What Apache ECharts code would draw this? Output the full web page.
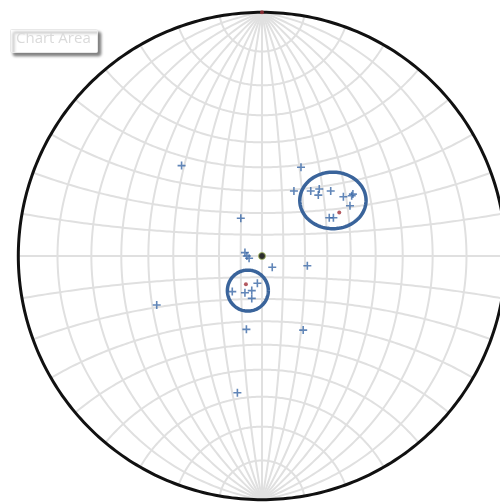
<!DOCTYPE html>
<html>
<head>
<meta charset="utf-8">
<script src="https://cdn.jsdelivr.net/npm/echarts@6/dist/echarts.min.js"></script>
<style>html,body{margin:0;padding:0;background:#fff}#c{width:500px;height:504px}</style>
</head>
<body>
<div id="c"></div>
<script>
// Projected positions (Wulff net units, radius = 1)
var polesX = [-0.330,-0.087,-0.070,-0.062,-0.053,0.042,0.186,0.160,0.131,0.200,0.235,0.231,0.282,0.334,0.368,0.373,0.361,0.276,0.293,-0.019,-0.122,-0.070,-0.042,-0.042,-0.064,0.169,-0.432,-0.101];
var polesY = [0.371,0.155,0.014,0.000,-0.009,-0.046,-0.040,0.364,0.267,0.267,0.275,0.250,0.267,0.243,0.247,0.254,0.206,0.157,0.157,-0.112,-0.146,-0.151,-0.142,-0.174,-0.301,-0.304,-0.201,-0.561];
var meanX = [0.317, -0.066, 0.000];
var meanY = [0.179, -0.116, 1.000];
var centerX = [0];
var centerY = [0];
// Confidence cones: centre and radii (net units)
var coneX = [0.291, -0.058];
var coneY = [0.228, -0.142];
var coneRx = [0.136, 0.084];
var coneRy = [0.116, 0.084];
// Net grid spacing (degrees)
var netStep = 10;

function proj(latDeg, lonDeg) {
  var f = latDeg * Math.PI / 180, l = lonDeg * Math.PI / 180;
  var x = Math.cos(f) * Math.sin(l), y = Math.sin(f), z = Math.cos(f) * Math.cos(l);
  return [x / (1 + z), y / (1 + z)];
}
var netLines = [];
for (var lon = -90 + netStep; lon < 90; lon += netStep) {
  var c = [];
  for (var lat = -90; lat <= 90; lat += 1) c.push(proj(lat, lon));
  netLines.push({coords: c});
}
for (var lat2 = -90 + netStep; lat2 < 90; lat2 += netStep) {
  var c2 = [];
  for (var lo = -90; lo <= 90; lo += 1) c2.push(proj(lat2, lo));
  netLines.push({coords: c2});
}
var prim = [];
for (var a = 0; a <= 360; a += 1) prim.push([Math.cos(a * Math.PI / 180), Math.sin(a * Math.PI / 180)]);
var cones = [];
for (var k = 0; k < coneX.length; k++) {
  var cc = [];
  for (var t = 0; t <= 360; t += 3) {
    var r = t * Math.PI / 180;
    cc.push([coneX[k] + coneRx[k] * Math.cos(r), coneY[k] + coneRy[k] * Math.sin(r)]);
  }
  cones.push({coords: cc});
}
function zip(xs, ys) { return xs.map(function (v, i) { return [v, ys[i]]; }); }

var chart = echarts.init(document.getElementById('c'));
chart.setOption({
  animation: false,
  grid: {left: 18.3, top: 12.3, width: 487.4, height: 487.4, outerBoundsMode: 'none', containLabel: false},
  xAxis: {type: 'value', min: -1, max: 1, show: false},
  yAxis: {type: 'value', min: -1, max: 1, show: false},
  series: [
    {type: 'lines', coordinateSystem: 'cartesian2d', polyline: true, clip: false, silent: true, z: 1,
     lineStyle: {color: '#e0e0e0', width: 2, opacity: 1}, data: netLines},
    {type: 'lines', coordinateSystem: 'cartesian2d', polyline: true, clip: false, silent: true, z: 2,
     lineStyle: {color: '#111111', width: 3, opacity: 1}, data: [{coords: prim}]},
    {type: 'lines', coordinateSystem: 'cartesian2d', polyline: true, clip: false, silent: true, z: 3,
     lineStyle: {color: '#3a649b', width: 3.5, opacity: 1}, data: cones},
    {type: 'scatter', clip: false, z: 4, symbol: 'path://M4,0H6V4H10V6H6V10H4V6H0V4H4Z', symbolSize: 8,
     itemStyle: {color: '#3a68a6'}, data: zip(polesX, polesY)},
    {type: 'scatter', clip: false, z: 5, symbol: 'circle', symbolSize: 4,
     itemStyle: {color: '#a03038'}, data: zip(meanX, meanY)},
    {type: 'scatter', clip: false, z: 5, symbol: 'circle', symbolSize: 7,
     itemStyle: {color: '#000000', borderColor: '#a8c060', borderWidth: 1}, data: zip(centerX, centerY)}
  ],
  graphic: [
    {type: 'rect', left: 10, top: 29, z: 10,
     shape: {width: 87, height: 23, r: 1},
     style: {fill: '#ffffff', stroke: '#e8e8e8', lineWidth: 1,
             shadowColor: 'rgba(0,0,0,0.5)', shadowBlur: 3, shadowOffsetX: 3, shadowOffsetY: 3}},
    {type: 'text', left: 16, top: 31, z: 11,
     style: {text: 'Chart Area', fill: '#dadada', font: '15px "Open Sans", sans-serif'}}
  ]
});
</script>
</body>
</html>
